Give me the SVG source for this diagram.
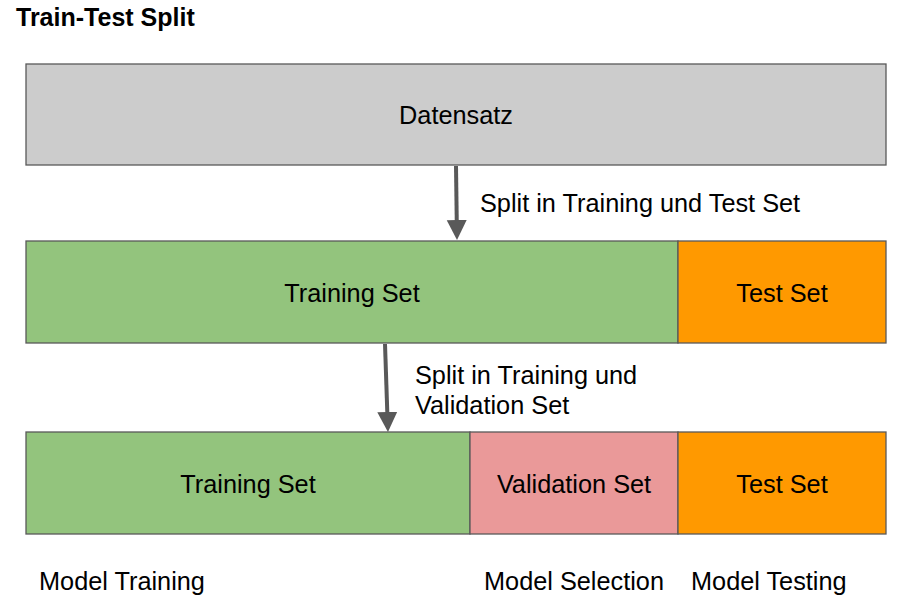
<svg xmlns="http://www.w3.org/2000/svg" width="915" height="614" viewBox="0 0 915 614">
<style>
.box{stroke:#595959;stroke-width:1.3}
.t{font-family:"Liberation Sans",Arial,sans-serif;font-size:25.3px;fill:#000}
.c{text-anchor:middle}
.ttl{font-family:"Liberation Sans",Arial,sans-serif;font-size:25px;font-weight:bold;fill:#000}
.arr{stroke:#595959;stroke-width:4;fill:none}
</style>
<defs>
<marker id="ah" markerWidth="6" markerHeight="6" refX="3" refY="3" orient="auto" markerUnits="strokeWidth">
<path d="M0,0.5 L5,3 L0,5.5 Z" fill="#595959"/>
</marker>
</defs>
<rect width="915" height="614" fill="#fff"/>
<text class="ttl" x="16" y="26">Train-Test Split</text>
<g id="datensatz"><rect class="box" x="26" y="64" width="860" height="101" fill="#cccccc"/><text class="t c" x="456" y="124">Datensatz</text></g>
<g id="training1"><rect class="box" x="26" y="241" width="652" height="102" fill="#93c47d"/><text class="t c" x="352" y="302">Training Set</text></g>
<g id="test1"><rect class="box" x="678" y="241" width="208" height="102" fill="#ff9900"/><text class="t c" x="782" y="302">Test Set</text></g>
<g id="training2"><rect class="box" x="26" y="432" width="444" height="102" fill="#93c47d"/><text class="t c" x="248" y="493">Training Set</text></g>
<g id="validation"><rect class="box" x="470" y="432" width="208" height="102" fill="#ea9999"/><text class="t c" x="574" y="493">Validation Set</text></g>
<g id="test2"><rect class="box" x="678" y="432" width="208" height="102" fill="#ff9900"/><text class="t c" x="782" y="493">Test Set</text></g>
<g id="connectors">
<line class="arr" x1="456" y1="166" x2="456.9" y2="232" marker-end="url(#ah)"/>
<line class="arr" x1="385" y1="344" x2="387.7" y2="424" marker-end="url(#ah)"/>
</g>
<text class="t" x="480" y="212">Split in Training und Test Set</text>
<text class="t" x="415" y="384">Split in Training und</text>
<text class="t" x="415" y="414">Validation Set</text>
<text class="t" x="39" y="590">Model Training</text>
<text class="t" x="484" y="590">Model Selection</text>
<text class="t" x="691" y="590">Model Testing</text>
</svg>
